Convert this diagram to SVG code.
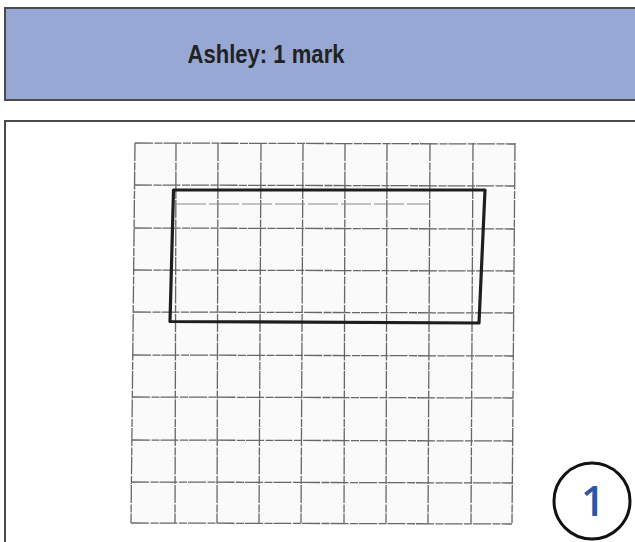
<svg xmlns="http://www.w3.org/2000/svg" width="635" height="542" viewBox="0 0 635 542">
<style>
.grid line{stroke:#666666;stroke-width:1.3;stroke-dasharray:18 1.5 8 1}
.frame{stroke:#4a4a4a;stroke-width:2;fill:none}
</style>
<rect x="0" y="0" width="635" height="542" fill="#ffffff"/>
<g id="header">
<rect x="5" y="8" width="640" height="92" fill="#98a8d4"/>
<path class="frame" d="M640 8 H5 V100 H640"/>
<text x="266" y="63" font-family="'Liberation Sans', Arial, sans-serif" font-weight="bold" font-size="25" fill="#222" text-anchor="middle" textLength="157" lengthAdjust="spacingAndGlyphs">Ashley: 1 mark</text>
</g>
<g id="panel">
<path class="frame" d="M640 121 H5 V545"/>
</g>
<g id="grid" class="grid">
<rect x="133" y="143" width="381" height="380" fill="#fafafa"/>
<line x1="135" y1="143" x2="131" y2="523"/>
<line x1="176" y1="143" x2="175" y2="523"/>
<line x1="218" y1="143" x2="217" y2="523"/>
<line x1="261" y1="143" x2="259" y2="523"/>
<line x1="303" y1="143" x2="301" y2="523"/>
<line x1="345" y1="143" x2="344" y2="523"/>
<line x1="387" y1="143" x2="386" y2="523"/>
<line x1="430" y1="143" x2="428" y2="523"/>
<line x1="473" y1="143" x2="471" y2="523"/>
<line x1="515" y1="143" x2="512" y2="523"/>
<line x1="135" y1="143" x2="515" y2="144"/>
<line x1="134" y1="185" x2="515" y2="186"/>
<line x1="134" y1="228" x2="515" y2="229"/>
<line x1="134" y1="270" x2="514" y2="271"/>
<line x1="133" y1="312" x2="514" y2="313"/>
<line x1="133" y1="355" x2="514" y2="356"/>
<line x1="132" y1="397" x2="513" y2="398"/>
<line x1="132" y1="440" x2="513" y2="441"/>
<line x1="131" y1="482" x2="513" y2="483"/>
<line x1="131" y1="523" x2="512" y2="524"/>
<line x1="176" y1="204" x2="430" y2="204" style="stroke:#8a8a8a;stroke-width:1;stroke-dasharray:30 3"/>
</g>
<g id="shape">
<path d="M173.5 190 L485 190 L479 323 L170 321.5 Z" fill="none" stroke="#1e1e1e" stroke-width="3.2" stroke-linejoin="round"/>
</g>
<g id="score">
<circle cx="592" cy="501" r="38" fill="none" stroke="#111" stroke-width="3"/>
<text x="593" y="516" font-family="'Open Sans', 'Liberation Sans', sans-serif" font-weight="600" font-size="42" fill="#2f55a8" text-anchor="middle">1</text>
</g>
</svg>
